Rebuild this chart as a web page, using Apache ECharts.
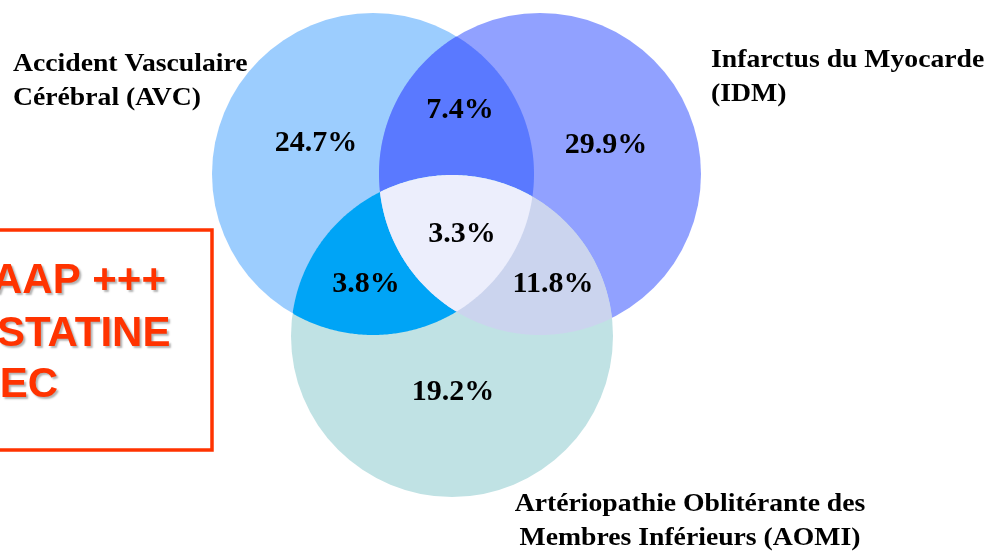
<!DOCTYPE html>
<html>
<head>
<meta charset="utf-8">
<script src="https://cdn.jsdelivr.net/npm/echarts@6/dist/echarts.min.js"></script>
<style>
html,body{margin:0;padding:0;background:#fff;}
#main{width:988px;height:551px;}
</style>
</head>
<body>
<div id="main"></div>
<script>
// ---- data ----
const setNames = ['Accident Vasculaire\nCérébral (AVC)', 'Infarctus du Myocarde\n(IDM)', 'Artériopathie Oblitérante des\nMembres Inférieurs (AOMI)'];
const regionSets = [[0], [1], [2], [0, 1], [0, 2], [1, 2], [0, 1, 2]];
const regionValues = [24.7, 29.9, 19.2, 7.4, 3.8, 11.8, 3.3];
const boxLines = ['AAP +++', 'STATINE', 'IEC'];

// ---- layout / style ----
const circles = [
  { cx: 373, cy: 174, r: 161 },
  { cx: 540, cy: 174, r: 161 },
  { cx: 452, cy: 336, r: 161 }
];
const regionColors = ['#9CCDFE', '#91A1FF', '#C0E2E4', '#5A79FF', '#00A4F6', '#CBD4EE', '#ECEEFC'];
const labelAnchors = [[316, 143], [606, 145], [453, 392], [460, 110], [366, 284], [553, 284], [462, 234]];

function inside(p, c) {
  const dx = p[0] - c.cx, dy = p[1] - c.cy;
  return dx * dx + dy * dy <= c.r * c.r + 1e-6;
}
function regionPolygon(set) {
  const pts = [];
  const N = 720;
  set.forEach(function (i) {
    const c = circles[i];
    for (let k = 0; k < N; k++) {
      const a = 2 * Math.PI * k / N;
      const p = [c.cx + c.r * Math.cos(a), c.cy + c.r * Math.sin(a)];
      if (set.every(function (j) { return j === i || inside(p, circles[j]); })) pts.push(p);
    }
  });
  let mx = 0, my = 0;
  pts.forEach(function (p) { mx += p[0]; my += p[1]; });
  mx /= pts.length; my /= pts.length;
  pts.sort(function (a, b) { return Math.atan2(a[1] - my, a[0] - mx) - Math.atan2(b[1] - my, b[0] - mx); });
  return pts;
}
const polys = regionSets.map(function (s) { return s.length > 1 ? regionPolygon(s) : null; });

const chart = echarts.init(document.getElementById('main'));
const titleFont = 'bold 26px "Liberation Serif", "Times New Roman", serif';
const boxFont = 'bold 42px "Liberation Sans", Arial, sans-serif';
function boxText(txt, x, y) {
  return { type: 'text', x: x, y: y, style: { text: txt, font: boxFont, fill: '#FF3300', textVerticalAlign: 'middle', textShadowColor: 'rgba(0,0,0,0.3)', textShadowOffsetX: 2, textShadowOffsetY: 2, textShadowBlur: 2 } };
}
function titleText(txt, x, y, align) {
  return { type: 'text', x: x, y: y, scaleX: 1.065, style: { text: txt, font: titleFont, lineHeight: 34, fill: '#000', textAlign: align || 'left' } };
}
chart.setOption({
  animation: false,
  backgroundColor: '#ffffff',
  grid: { left: 0, right: 0, top: 0, bottom: 0 },
  xAxis: { type: 'value', min: 0, max: 988, show: false },
  yAxis: { type: 'value', min: 0, max: 551, inverse: true, show: false },
  graphic: [
    { type: 'rect', shape: { x: -10, y: 230, width: 222, height: 220 }, style: { fill: 'none', stroke: '#FF3300', lineWidth: 3.5 } },
    boxText(boxLines[0], -8, 281),
    boxText(boxLines[1], -3, 334),
    boxText(boxLines[2], -12, 385),
    titleText(setNames[0], 13, 47),
    titleText(setNames[1], 711, 43),
    titleText(setNames[2], 690, 487, 'center')
  ],
  series: [
    {
      type: 'custom',
      coordinateSystem: 'cartesian2d',
      data: regionSets.map(function (s, i) { return [i]; }),
      renderItem: function (params, api) {
        const idx = api.value(0);
        const set = regionSets[idx];
        if (set.length === 1) {
          const c = circles[set[0]];
          const p = api.coord([c.cx, c.cy]);
          const r = api.size([c.r, 0])[0];
          return { type: 'circle', shape: { cx: p[0], cy: p[1], r: r }, style: { fill: regionColors[idx] } };
        }
        const pts = polys[idx].map(function (q) { return api.coord(q); });
        return { type: 'polygon', shape: { points: pts }, style: { fill: regionColors[idx] } };
      },
      z: 1
    },
    {
      type: 'scatter',
      symbolSize: 0,
      itemStyle: { opacity: 1 },
      data: regionValues.map(function (v, i) { return [labelAnchors[i][0], labelAnchors[i][1], v]; }),
      label: {
        show: true,
        position: 'inside',
        formatter: function (p) { return p.value[2].toFixed(1) + '%'; },
        fontFamily: '"Liberation Serif", "Times New Roman", serif',
        fontWeight: 'bold',
        fontSize: 30,
        color: '#000',
        opacity: 1
      },
      z: 3
    }
  ]
});
</script>
</body>
</html>
